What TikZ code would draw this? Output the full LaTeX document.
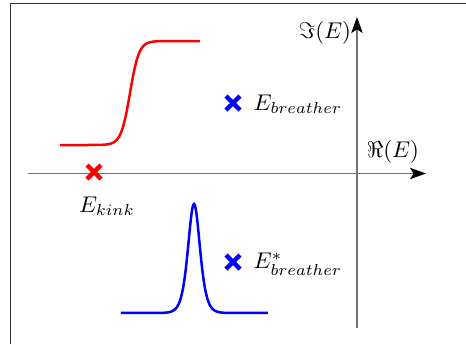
\documentclass[tikz,border=0pt]{standalone}
\usetikzlibrary{arrows.meta}
\begin{document}
\begin{tikzpicture}[x=0.44pt,y=-0.44pt,
  axis/.style={draw=black!55, line width=0.65pt, -{Stealth[black,length=7pt,width=5pt,inset=1.5pt]}},
  curve/.style={line width=1.1pt},
  cross/.style={line width=1.9pt},
  lbl/.style={inner sep=1pt}]
\useasboundingbox (0,0) rectangle (466,344);
% frame (cropped)
\draw[black!80, line width=0.65pt] (10.5,344) -- (10.5,3.5) -- (466,3.5);
% axes
\coordinate (xs) at (28,173.5);
\coordinate (xe) at (426,173.5);
\coordinate (ys) at (357,328);
\coordinate (ye) at (357,17);
\draw[axis] (xs) -- (xe);
\draw[axis] (ys) -- (ye);
\node[lbl] (im) at (325,33) {$\Im(E)$};
\node[lbl] (re) at (393,152) {$\Re(E)$};
% red kink curve
\draw[red, curve] plot[domain=60:200, samples=140] (\x, {93-52*tanh(max(min((\x-130)/9,5),-5))});
% blue breather curve
\draw[blue, curve] plot[domain=121:268, samples=200] (\x, {313-109*(1-(tanh(max(min((\x-194)/8,5),-5)))^2)});
% crosses
\coordinate (kink) at (94,172);
\coordinate (br) at (233,103);
\coordinate (brs) at (233,262);
\foreach \c/\col in {kink/red, br/blue, brs/blue}{
  \draw[\col, cross] ([shift={(-7,-7)}]\c) -- ([shift={(7,7)}]\c);
  \draw[\col, cross] ([shift={(-7,7)}]\c) -- ([shift={(7,-7)}]\c);
}
\node[lbl] (lk) at (107,206) {$E_{kink}$};
\node[lbl, anchor=west] (lb) at (251,104) {$E_{breather}$};
\node[lbl, anchor=west] (lbs) at (251,264) {$E^*_{breather}$};
\end{tikzpicture}
\end{document}
